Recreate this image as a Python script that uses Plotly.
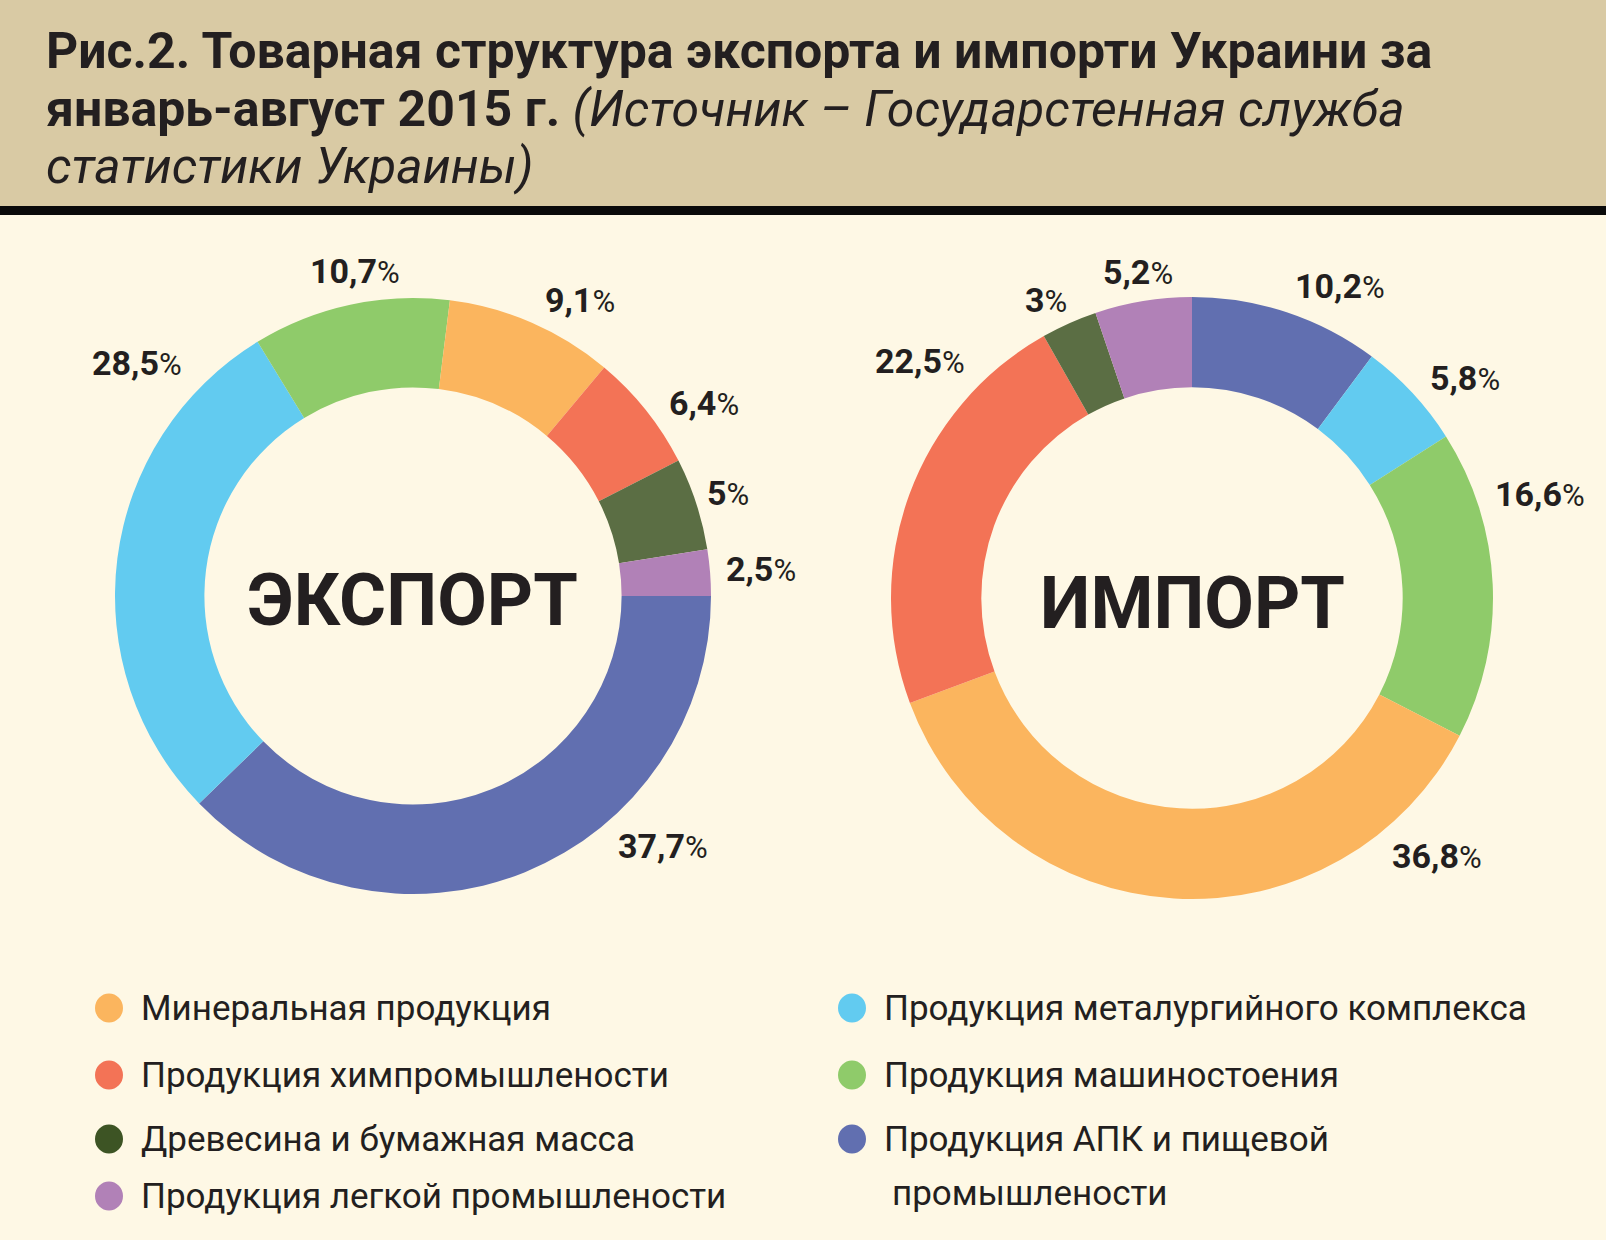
import math
import plotly.graph_objects as go

# ---------------- data ----------------
categories = [
    "Продукция АПК и пищевой промышлености",
    "Продукция металургийного комплекса",
    "Продукция машиностоения",
    "Минеральная продукция",
    "Продукция химпромышлености",
    "Древесина и бумажная масса",
    "Продукция легкой промышлености",
]
export_values = [37.7, 28.5, 10.7, 9.1, 6.4, 5.0, 2.5]
import_values = [10.2, 5.8, 16.6, 36.8, 22.5, 3.0, 5.2]

legend_left = [["Минеральная продукция"], ["Продукция химпромышлености"],
               ["Древесина и бумажная масса"], ["Продукция легкой промышлености"]]
legend_right = [["Продукция металургийного комплекса"], ["Продукция машиностоения"],
                ["Продукция АПК и пищевой", " промышлености"]]

title_line1 = "Рис.2. Товарная структура экспорта и импорти Украини за"
title_line2_bold = "январь-август 2015 г."
title_line2_italic = "(Источник – Государстенная служба"
title_line3_italic = "статистики Украины)"

# ---------------- style ----------------
W, H = 1606, 1240
BG = "#fef8e5"
HEADER = "#d9caa4"
TXT = "#231f20"
FONT = "Roboto"
slice_colors = ["#616fb0", "#62cbf0", "#8fcb6a", "#fbb55e", "#f37356", "#5b6e44", "#b181b7"]
legend_colors = {
    "Минеральная продукция": "#fbb55e",
    "Продукция химпромышлености": "#f37356",
    "Древесина и бумажная масса": "#3d5424",
    "Продукция легкой промышлености": "#b181b7",
    "Продукция металургийного комплекса": "#62cbf0",
    "Продукция машиностоения": "#8fcb6a",
    "Продукция АПК и пищевой": "#616fb0",
}

# pie geometry (pixels)
charts = [
    dict(values=export_values, cx=413, cy=596, R=298, rotation=90, name="ЭКСПОРТ",
         nudge=[23, -33, -2, -6, -5, 0, 0], extra=[0, 6, 0, 0, 0, 0, 0]),
    dict(values=import_values, cx=1192, cy=598, R=301, rotation=0, name="ИМПОРТ",
         nudge=[-7, -4, 14, 47, -21, 2, 0], extra=[0, 0, 0, 0, 3, 0, 0]),
]
HOLE = 0.70


def px(x):
    return x / W


def py(y):
    return 1 - y / H


def fmt(v):
    return f"{v:g}".replace(".", ",")


fig = go.Figure()
annotations = []
shapes = []

for ch in charts:
    cx, cy, R = ch["cx"], ch["cy"], ch["R"]
    fig.add_trace(go.Pie(
        values=ch["values"], labels=categories, sort=False, direction="clockwise",
        rotation=ch["rotation"], hole=HOLE, textinfo="none", showlegend=False,
        marker=dict(colors=slice_colors, line=dict(width=0)),
        domain=dict(x=[px(cx - R), px(cx + R)], y=[py(cy + R), py(cy - R)]),
        hoverinfo="label+percent",
    ))
    total = sum(ch["values"])
    start = 90 - ch["rotation"]
    cum = 0.0
    for v, nd, ex in zip(ch["values"], ch["nudge"], ch["extra"]):
        a0 = start - cum / total * 360
        a1 = a0 - v / total * 360
        cum += v
        ang = math.radians((a0 + a1) / 2 + nd)
        s = fmt(v)
        w = 20 * len(s) + 24
        h = 30
        r = R + 8 + ex + 0.5 * (abs(math.cos(ang)) * w + abs(math.sin(ang)) * h)
        x = cx + r * math.cos(ang)
        y = cy - r * math.sin(ang)
        annotations.append(dict(
            x=px(x), y=py(y), xref="paper", yref="paper", showarrow=False,
            xanchor="center", yanchor="middle",
            text=f"<b>{s}</b><span style='font-size:31px'>%</span>",
            font=dict(family=FONT, size=34, color=TXT),
        ))
    annotations.append(dict(
        x=px(cx), y=py(cy + 5), xref="paper", yref="paper", showarrow=False,
        xanchor="center", yanchor="middle", text=f"<b>{ch['name']}</b>",
        font=dict(family=FONT, size=72, color=TXT),
    ))

# header
shapes.append(dict(type="rect", xref="paper", yref="paper", x0=0, x1=1,
                   y0=py(206), y1=1, fillcolor=HEADER, line=dict(width=0), layer="below"))
shapes.append(dict(type="rect", xref="paper", yref="paper", x0=0, x1=1,
                   y0=py(215), y1=py(206), fillcolor="#0a0a0a", line=dict(width=0), layer="below"))

title_font = dict(family=FONT, size=50, color=TXT)
annotations.append(dict(x=px(44), y=py(51), xref="paper", yref="paper", showarrow=False,
                        xanchor="left", yanchor="middle", text=f"<b>{title_line1}</b>",
                        font=title_font))
annotations.append(dict(x=px(44), y=py(109), xref="paper", yref="paper", showarrow=False,
                        xanchor="left", yanchor="middle",
                        text=f"<b>{title_line2_bold}</b> <i>{title_line2_italic}</i>",
                        font=title_font))
annotations.append(dict(x=px(44), y=py(166), xref="paper", yref="paper", showarrow=False,
                        xanchor="left", yanchor="middle", text=f"<i>{title_line3_italic}</i>",
                        font=title_font))

# legend
rows_y = [1008, 1075, 1139, 1196]
LINE_GAP = 54
cols = [(109, 139, legend_left), (852, 882, legend_right)]
for cxl, tx, items in cols:
    for i, lines in enumerate(items):
        yy = rows_y[i]
        shapes.append(dict(type="circle", xref="paper", yref="paper",
                           xsizemode="pixel", ysizemode="pixel",
                           xanchor=px(cxl), yanchor=py(yy),
                           x0=-14, x1=14, y0=-14.5, y1=14.5,
                           fillcolor=legend_colors[lines[0]], line=dict(width=0)))
        for k, line in enumerate(lines):
            annotations.append(dict(
                x=px(tx + (8 if k else 0)), y=py(yy - 22 + k * LINE_GAP),
                xref="paper", yref="paper", showarrow=False,
                xanchor="left", yanchor="top", align="left", text=line.strip(),
                font=dict(family=FONT, size=35, color=TXT),
            ))

fig.update_layout(
    width=W, height=H, margin=dict(l=0, r=0, t=0, b=0, pad=0),
    paper_bgcolor=BG, plot_bgcolor=BG,
    annotations=annotations, shapes=shapes, showlegend=False,
)
fig.write_html(
    "out.html",
    config={"displayModeBar": False},
    post_script="document.body.style.margin='0';document.body.style.padding='0';"
                "document.body.style.overflow='hidden';",
)
